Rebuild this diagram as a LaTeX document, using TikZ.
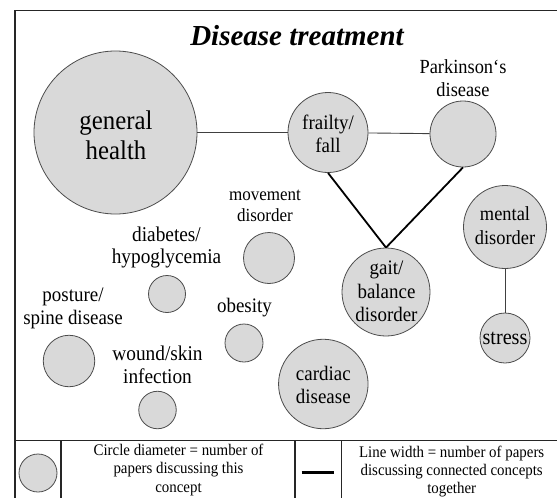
\documentclass[tikz,border=0pt]{standalone}
\usepackage{fontspec}
\setmainfont{Liberation Serif}
\newfontfamily\condfont[FakeStretch=0.92]{Liberation Serif}
\newcommand\myfs[2]{\fontsize{#1}{#2}\selectfont}
\begin{document}
\begin{tikzpicture}[x=1pt,y=-1pt,
  bub/.style={circle,draw=black!70,fill=gray!30,inner sep=0pt,line width=0.8pt},
  lbl/.style={align=center,inner sep=0pt,text=black},
  thinln/.style={draw=black!75,line width=0.9pt},
  thickln/.style={draw=black,line width=1.8pt},
  frameln/.style={draw=black!85,line width=1.5pt}]
\useasboundingbox (0,0) rectangle (557,498);
\fill[white] (0,0) rectangle (557,498);
\clip (0,0) rectangle (557,498);
% frame
\draw[frameln] (15,10.5) rectangle (575,515);
\node[lbl,anchor=base,font={\myfs{29}{34}\bfseries\itshape}] (title) at (297,45) {Disease treatment};
% bubbles
\node[bub,minimum size=163] (gh) at (115.5,132.5) {};
\node[lbl,font={\condfont\myfs{27}{30}}] (ght) at (116,135) {general\\health};
\node[bub,minimum size=80] (ff) at (328,132.5) {};
\node[lbl,font={\condfont\myfs{20.6}{23.3}}] (fft) at (328,133.5) {frailty/\\fall};
\node[bub,minimum size=66] (pk) at (463,134) {};
\node[lbl,font={\condfont\myfs{20}{23.3}}] (pkt) at (463,78.5) {Parkinson‘s\\disease};
\node[bub,minimum size=88] (ga) at (386,292) {};
\node[lbl,font={\condfont\myfs{20.6}{23.5}}] (gat) at (386.5,291.5) {gait/\\balance\\disorder};
\node[bub,minimum size=83] (md) at (505,227) {};
\node[lbl,font={\condfont\myfs{20}{24}}] (mdt) at (505,225.5) {mental\\disorder};
\node[bub,minimum size=50] (st) at (505,338) {};
\node[lbl,font={\condfont\myfs{22}{24}}] (stt) at (505,338) {stress};
\node[bub,minimum size=51] (mv) at (269,258) {};
\node[lbl,font={\condfont\myfs{18.5}{21.7}}] (mvt) at (265,206) {movement\\disorder};
\node[bub,minimum size=37] (db) at (167,294) {};
\node[lbl,font={\condfont\myfs{21}{21.5}}] (dbt) at (166.5,247.5) {diabetes/\\hypoglycemia};
\node[bub,minimum size=51.5] (ps) at (69,361) {};
\node[lbl,font={\condfont\myfs{20.6}{23.3}}] (pst) at (73,308.5) {posture/\\spine disease};
\node[bub,minimum size=38] (ob) at (244,343) {};
\node[lbl,font={\condfont\myfs{20.6}{23}}] (obt) at (244.5,308) {obesity};
\node[bub,minimum size=37.5] (wd) at (157.5,410) {};
\node[lbl,font={\condfont\myfs{21}{23.4}}] (wdt) at (157.5,365) {wound/skin\\infection};
\node[bub,minimum size=89.5] (cd) at (323.3,384) {};
\node[lbl,font={\condfont\myfs{20.6}{23}}] (cdt) at (323.3,384.5) {cardiac\\disease};
% connectors
\draw[thinln] (gh) -- (ff);
\draw[thinln] (ff) -- (pk);
\draw[thickln] (ff.south) -- (ga.north);
\draw[thickln] (pk.south) -- (ga.north);
\draw[thinln] (md) -- (st);
% legend
\draw[frameln] (15,440.7) -- (575,440.7);
\draw[frameln] (61,440.7) -- (61,515);
\draw[frameln] (295,440.7) -- (295,515);
\draw[frameln] (341.5,440.7) -- (341.5,515);
\node[bub,minimum size=38] (lc) at (38,473) {};
\node[lbl,font={\condfont\myfs{16.2}{18.6}}] (lt1) at (178.5,470) {Circle diameter = number of\\papers discussing this\\concept};
\coordinate (la) at (301.7,472.7);
\coordinate (lb) at (334,472.7);
\draw[line width=3.5pt] (la) -- (lb);
\node[lbl,font={\condfont\myfs{16.2}{18.4}}] (lt2) at (451.7,471.5) {Line width = number of papers\\discussing connected concepts\\together};
\end{tikzpicture}
\end{document}
